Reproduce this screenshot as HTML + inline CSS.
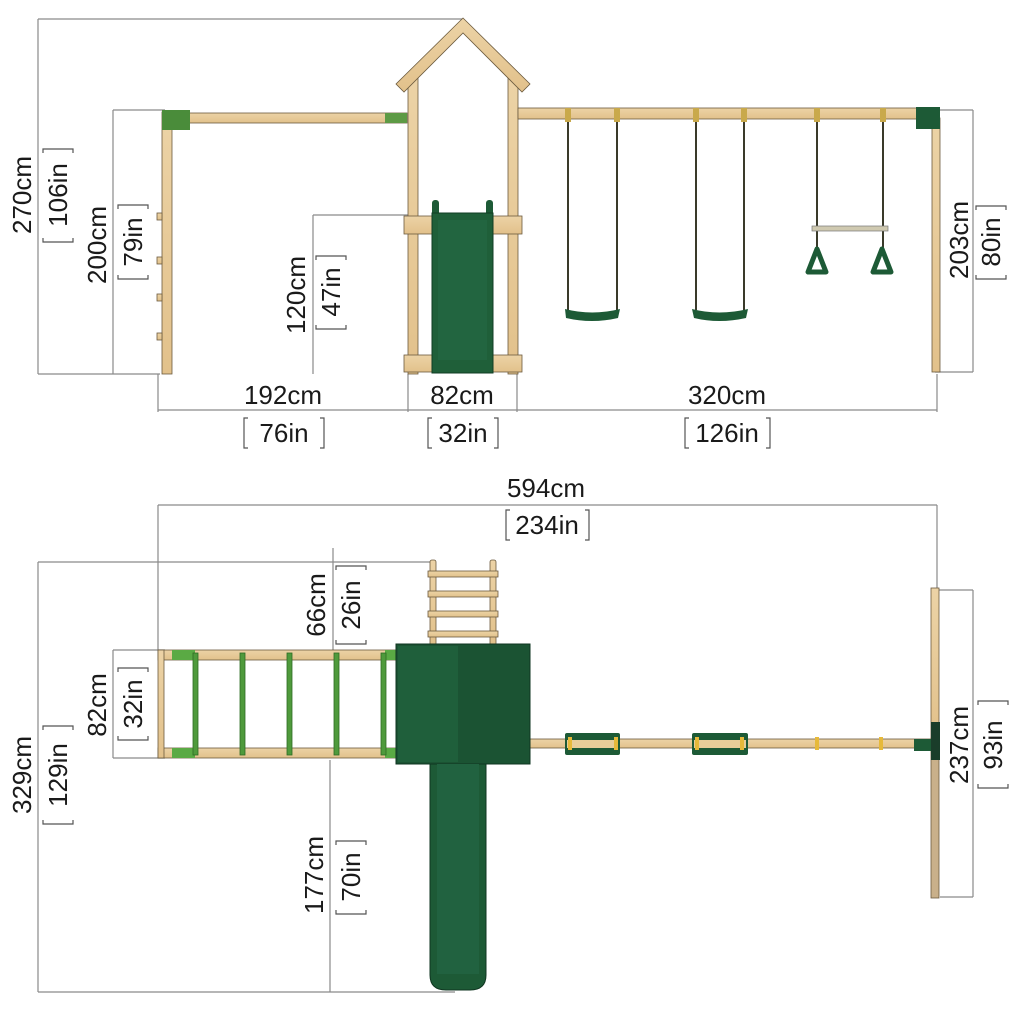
<!DOCTYPE html>
<html><head><meta charset="utf-8"><style>
html,body{margin:0;padding:0;background:#fff;}
svg{display:block}
text{font-family:"Liberation Sans",Arial,sans-serif;font-size:26px;fill:#1a1a1a;}
</style></head><body>
<svg width="1024" height="1024" viewBox="0 0 1024 1024" xmlns="http://www.w3.org/2000/svg">
<defs>
<linearGradient id="wood" x1="0" x2="0" y1="0" y2="1"><stop offset="0" stop-color="#ecd3a6"/><stop offset="1" stop-color="#e2c18b"/></linearGradient>
</defs>
<g stroke="#8a8a8a" stroke-width="1.2" fill="none">
<path d="M38 19H463M38 19V374M38 374H160"/>
<path d="M113 110H165M113 110V374"/>
<path d="M313 215H410M313 215V374"/>
<path d="M935 110H973M973 110V372M935 372H973"/>
<path d="M158 374V412M408 374V412M517 374V412M937 374V412M158 410H937"/>
<path d="M158 505H937M158 505V650M937 505V590"/>
<path d="M38 562H433M38 562V992M38 992H455"/>
<path d="M333 548V650"/>
<path d="M113 650H165M113 650V758M113 758H165"/>
<path d="M330 760V992"/>
<path d="M937 590H973M973 590V897M940 897H973"/>
</g>
<g stroke="#555" stroke-width="1.2" fill="none">
<path d="M248 418h-4v30h4M320 418h4v30h-4"/>
<path d="M432 418h-4v30h4M494 418h4v30h-4"/>
<path d="M689 418h-4v30h4M766 418h4v30h-4"/>
<path d="M510 510h-4v30h4M585 510h4v30h-4"/>
<path d="M43 153v-4h30v4M43 238v4h30v-4"/>
<path d="M118 209v-4h30v4M118 275v4h30v-4"/>
<path d="M316 260v-4h30v4M316 325v4h30v-4"/>
<path d="M976 210v-4h30v4M976 275v4h30v-4"/>
<path d="M336 570v-4h30v4M336 640v4h30v-4"/>
<path d="M118 672v-4h30v4M118 736v4h30v-4"/>
<path d="M43 730v-4h30v4M43 820v4h30v-4"/>
<path d="M336 845v-4h30v4M336 910v4h30v-4"/>
<path d="M978 705v-4h30v4M978 784v4h30v-4"/>
</g>
<g text-anchor="middle">
<text x="283" y="404">192cm</text><text x="284" y="442">76in</text>
<text x="462" y="404">82cm</text><text x="463" y="442">32in</text>
<text x="727" y="404">320cm</text><text x="727" y="442">126in</text>
<text x="546" y="497">594cm</text><text x="547" y="534">234in</text>
<text transform="translate(31,195) rotate(-90)">270cm</text>
<text transform="translate(67,195) rotate(-90)">106in</text>
<text transform="translate(106,245) rotate(-90)">200cm</text>
<text transform="translate(142,242) rotate(-90)">79in</text>
<text transform="translate(305,295) rotate(-90)">120cm</text>
<text transform="translate(340,292) rotate(-90)">47in</text>
<text transform="translate(968,240) rotate(-90)">203cm</text>
<text transform="translate(1000,242) rotate(-90)">80in</text>
<text transform="translate(325,605) rotate(-90)">66cm</text>
<text transform="translate(360,605) rotate(-90)">26in</text>
<text transform="translate(106,705) rotate(-90)">82cm</text>
<text transform="translate(142,704) rotate(-90)">32in</text>
<text transform="translate(31,775) rotate(-90)">329cm</text>
<text transform="translate(67,775) rotate(-90)">129in</text>
<text transform="translate(323,875) rotate(-90)">177cm</text>
<text transform="translate(360,877) rotate(-90)">70in</text>
<text transform="translate(968,745) rotate(-90)">237cm</text>
<text transform="translate(1002,745) rotate(-90)">93in</text>
</g>

<g stroke="#6b5a3e" stroke-width="0.8" fill="url(#wood)">
<rect x="165" y="113" width="242" height="10"/>
<rect x="162" y="112" width="10" height="262"/>
<rect x="157" y="213" width="5" height="7"/><rect x="157" y="257" width="5" height="7"/><rect x="157" y="294" width="5" height="7"/><rect x="157" y="333" width="5" height="7"/>
<rect x="408" y="75" width="10" height="299"/>
<rect x="508" y="75" width="10" height="299"/>
<path d="M463 18 L530 84 L522 92 L463 33 L404 92 L396 84 Z"/>
<rect x="404" y="216" width="118" height="18"/>
<rect x="404" y="355" width="118" height="17"/>
<rect x="518" y="108" width="418" height="11"/>
<rect x="932" y="118" width="8" height="254"/>
</g>
<rect x="162" y="110" width="28" height="20" fill="#4a8c3a"/>
<rect x="385" y="113" width="22" height="10" fill="#5d9a45"/>
<rect x="916" y="107" width="24" height="22" fill="#1d5a36"/>
<rect x="432" y="200" width="7" height="20" rx="3" fill="#1d5a36"/>
<rect x="486" y="200" width="7" height="20" rx="3" fill="#1d5a36"/>
<rect x="432" y="213" width="61" height="160" fill="#1f5f39" stroke="#113d24"/>
<rect x="438" y="220" width="49" height="140" fill="#226540"/>
<g stroke="#3a3a2a" stroke-width="2" fill="none">
<path d="M568 119V310M617 119V310M696 119V310M744 119V310M817 119V228M883 119V228M817 231V250M883 231V250"/>
</g>
<g fill="#c9a94b"><rect x="565" y="108" width="6" height="14"/><rect x="614" y="108" width="6" height="14"/><rect x="693" y="108" width="6" height="14"/><rect x="741" y="108" width="6" height="14"/><rect x="814" y="108" width="6" height="14"/><rect x="880" y="108" width="6" height="14"/></g>
<path d="M565 309 Q592 316 620 309 L618 318 Q592 324 566 318 Z" fill="#1d5a36"/>
<path d="M692 309 Q719 316 748 309 L746 318 Q719 324 694 318 Z" fill="#1d5a36"/>
<rect x="812" y="226" width="76" height="5" fill="#cfc9b0" stroke="#777" stroke-width="0.7"/>
<path d="M817 249 L808 272 L826 272 Z M882 249 L873 272 L891 272 Z" fill="none" stroke="#1d5a36" stroke-width="5" stroke-linejoin="round"/>

<g stroke="#6b5a3e" stroke-width="0.8" fill="url(#wood)">
<rect x="158" y="650" width="240" height="10"/>
<rect x="158" y="748" width="240" height="10"/>
<rect x="158" y="650" width="6" height="108"/>
<rect x="430" y="560" width="6" height="86" rx="2"/>
<rect x="490" y="560" width="6" height="86" rx="2"/>
<rect x="428" y="571" width="70" height="6"/><rect x="428" y="591" width="70" height="6"/><rect x="428" y="611" width="70" height="6"/><rect x="428" y="631" width="70" height="6"/>
<rect x="530" y="739" width="405" height="9"/>
<rect x="931" y="588" width="8" height="150"/>
</g>
<rect x="931" y="738" width="8" height="160" fill="#c9b08a" stroke="#6b5a3e" stroke-width="0.8"/>
<g fill="#5aaa44"><rect x="172" y="650" width="23" height="10"/><rect x="172" y="748" width="23" height="10"/><rect x="385" y="650" width="13" height="10"/><rect x="385" y="748" width="13" height="10"/></g>
<g fill="#4f9a3c" stroke="#2d6b24" stroke-width="0.8"><rect x="193" y="653" width="5" height="102"/><rect x="240" y="653" width="5" height="102"/><rect x="287" y="653" width="5" height="102"/><rect x="334" y="653" width="5" height="102"/><rect x="381" y="653" width="5" height="102"/></g>
<rect x="396" y="644" width="134" height="120" fill="#1b5333" stroke="#0f3520"/>
<rect x="398" y="646" width="60" height="116" fill="#1f5f3b"/>
<path d="M430 764 H486 V975 Q486 990 470 990 H446 Q430 990 430 975 Z" fill="#1d5a36" stroke="#0f3520"/>
<rect x="437" y="764" width="42" height="210" fill="#216240"/>
<rect x="565" y="733" width="55" height="22" rx="2" fill="#1d5a36"/>
<rect x="692" y="733" width="56" height="22" rx="2" fill="#1d5a36"/>
<rect x="567" y="740" width="51" height="8" fill="#e8cd99"/>
<rect x="694" y="740" width="52" height="8" fill="#e8cd99"/>
<g fill="#e6b93a"><rect x="568" y="737" width="4" height="13"/><rect x="614" y="737" width="4" height="13"/><rect x="695" y="737" width="4" height="13"/><rect x="740" y="737" width="4" height="13"/><rect x="815" y="737" width="4" height="13"/><rect x="879" y="737" width="4" height="13"/></g>
<rect x="914" y="739" width="26" height="12" fill="#1d5a36"/>
<rect x="931" y="722" width="9" height="38" fill="#1a3d2a"/>
</svg>
</body></html>
